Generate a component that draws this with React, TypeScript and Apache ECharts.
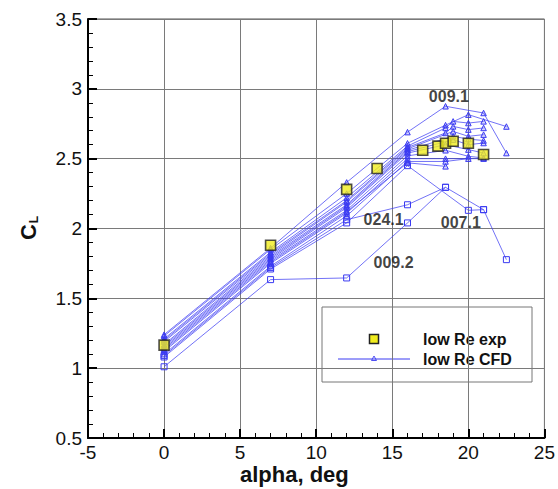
import React, { useEffect, useRef } from "react";
import * as echarts from "echarts";

const FONT = "'Liberation Sans', Arial, Helvetica, sans-serif";

// Experimental data (low Re exp)
const alphaExp = [0, 7, 12, 14, 17, 18, 18.5, 19, 20, 21];
const clExp = [1.165, 1.88, 2.28, 2.43, 2.56, 2.59, 2.61, 2.625, 2.61, 2.53];

// CFD runs (low Re CFD) - triangle marker runs
const t1Alpha = [0, 7, 12, 16, 18.5, 21, 22.5];
const t1Cl = [1.24, 1.86, 2.33, 2.69, 2.875, 2.827, 2.54];
const t2Alpha = [0, 7, 12, 16, 18.5, 20, 22.5];
const t2Cl = [1.23, 1.85, 2.25, 2.61, 2.74, 2.815, 2.73];
const t3Alpha = [0, 7, 12, 16, 18.5, 19, 20, 21];
const t3Cl = [1.21, 1.83, 2.22, 2.59, 2.72, 2.767, 2.755, 2.767];
const t4Alpha = [0, 7, 12, 16, 18.5, 19, 20, 21];
const t4Cl = [1.2, 1.82, 2.2, 2.58, 2.684, 2.731, 2.708, 2.72];
const t5Alpha = [0, 7, 12, 16, 19, 20, 21];
const t5Cl = [1.19, 1.81, 2.19, 2.57, 2.695, 2.66, 2.672];
const t6Alpha = [0, 7, 12, 16, 19, 20, 21];
const t6Cl = [1.17, 1.8, 2.17, 2.56, 2.66, 2.64, 2.63];
const t7Alpha = [0, 7, 12, 16, 19, 20, 21];
const t7Cl = [1.16, 1.79, 2.16, 2.55, 2.636, 2.6, 2.612];
const t8Alpha = [0, 7, 12, 16, 18.5, 20, 21];
const t8Cl = [1.15, 1.78, 2.15, 2.54, 2.6, 2.565, 2.54];
const t9Alpha = [0, 7, 12, 16, 18.5, 20, 21];
const t9Cl = [1.14, 1.77, 2.13, 2.52, 2.56, 2.517, 2.505];
const t10Alpha = [0, 7, 12, 16, 18.5, 21];
const t10Cl = [1.12, 1.75, 2.11, 2.5, 2.5, 2.5];
const t11Alpha = [0, 7, 12, 16, 18.5, 20];
const t11Cl = [1.1, 1.73, 2.09, 2.48, 2.48, 2.5];
const t12Alpha = [0, 7, 12, 16, 18.5];
const t12Cl = [1.13, 1.76, 2.12, 2.47, 2.445];

// square marker runs
const s0071Alpha = [0, 7, 12, 16, 20, 21, 22.5];
const s0071Cl = [1.08, 1.71, 2.04, 2.45, 2.13, 2.135, 1.777];
const s0241Alpha = [0, 7, 12, 16, 18.5, 21];
const s0241Cl = [1.09, 1.72, 2.063, 2.17, 2.295, 2.135];
const s0092Alpha = [0, 7, 12, 16, 18.5];
const s0092Cl = [1.01, 1.634, 1.646, 2.04, 2.295];

// annotation labels
const annoNames = ["009.1", "024.1", "007.1", "009.2"];
const annoAlpha = [18.72, 14.43, 19.5, 15.08];
const annoCl = [2.942, 2.063, 2.044, 1.758];

const xTicks = { min: -5, max: 25, interval: 5 };
const yTicks = { min: 0.5, max: 3.5, interval: 0.5 };

const triRuns: [number[], number[]][] = [
  [t1Alpha, t1Cl], [t2Alpha, t2Cl], [t3Alpha, t3Cl], [t4Alpha, t4Cl],
  [t5Alpha, t5Cl], [t6Alpha, t6Cl], [t7Alpha, t7Cl], [t8Alpha, t8Cl],
  [t9Alpha, t9Cl], [t10Alpha, t10Cl], [t11Alpha, t11Cl], [t12Alpha, t12Cl],
];
const sqRuns: [number[], number[]][] = [
  [s0071Alpha, s0071Cl], [s0241Alpha, s0241Cl], [s0092Alpha, s0092Cl],
];

const BLUE = "#3b3bf2";

function zip(a: number[], b: number[]) {
  return a.map((v, i) => [v, b[i]]);
}

export default function App() {
  const ref = useRef<HTMLDivElement>(null);
  useEffect(() => {
    if (!ref.current) return;
    const chart = echarts.init(ref.current, null, { renderer: "svg" });

    const cfdSeries: any[] = [];
    triRuns.forEach(([a, c]) => {
      cfdSeries.push({
        type: "line",
        data: zip(a, c),
        symbol: "triangle",
        symbolSize: 5.5,
        lineStyle: { color: BLUE, width: 0.9, opacity: 0.8 },
        itemStyle: { color: "rgba(80,80,245,0.25)", borderColor: BLUE, borderWidth: 1 },
        z: 3,
      });
    });
    sqRuns.forEach(([a, c]) => {
      cfdSeries.push({
        type: "line",
        data: zip(a, c),
        symbol: "rect",
        symbolSize: 6,
        lineStyle: { color: BLUE, width: 0.9, opacity: 0.8 },
        itemStyle: { color: "rgba(255,255,255,0)", borderColor: BLUE, borderWidth: 1 },
        z: 3,
      });
    });

    const option: any = {
      animation: false,
      backgroundColor: "#ffffff",
      textStyle: { fontFamily: FONT },
      grid: {
        left: 88,
        top: 19,
        right: 11,
        bottom: 51,
        show: true,
        borderColor: "#555",
        borderWidth: 1,
        backgroundColor: "transparent",
      },
      xAxis: {
        type: "value",
        min: xTicks.min,
        max: xTicks.max,
        interval: xTicks.interval,
        axisLine: { show: true, onZero: false, lineStyle: { color: "#000", width: 2 } },
        axisTick: { show: true, inside: true, length: 9, lineStyle: { color: "#000", width: 2 } },
        minorTick: { show: true, splitNumber: 5, length: 5, lineStyle: { color: "#000", width: 1 } },
        splitLine: { show: true, lineStyle: { color: "#7a7a7a", width: 1 } },
        axisLabel: { color: "#111", fontSize: 19, fontFamily: FONT, margin: 5 },
      },
      yAxis: {
        type: "value",
        min: yTicks.min,
        max: yTicks.max,
        interval: yTicks.interval,
        axisLine: { show: true, onZero: false, lineStyle: { color: "#000", width: 2 } },
        axisTick: { show: true, inside: true, length: 9, lineStyle: { color: "#000", width: 2 } },
        minorTick: { show: true, splitNumber: 5, length: 5, lineStyle: { color: "#000", width: 1 } },
        splitLine: { show: true, lineStyle: { color: "#7a7a7a", width: 1 } },
        axisLabel: { color: "#111", fontSize: 19, fontFamily: FONT, margin: 6 },
      },
      series: [
        ...cfdSeries,
        {
          type: "scatter",
          data: zip(alphaExp, clExp),
          symbol: "rect",
          symbolSize: 10,
          itemStyle: { color: "#f0ec1e", borderColor: "#222", borderWidth: 1.6 },
          z: 5,
        },
        {
          type: "scatter",
          data: annoNames.map((n, i) => ({ name: n, value: [annoAlpha[i], annoCl[i]] })),
          symbolSize: 0,
          silent: true,
          label: {
            show: true,
            position: "inside",
            formatter: (p: any) => p.name,
            fontFamily: FONT,
            fontWeight: "bold",
            fontSize: 16,
            color: "#111",
          },
          z: 6,
        },
      ],
      graphic: [
        {
          type: "text",
          left: 297 - 57,
          top: 463,
          style: {
            text: "alpha, deg",
            font: `bold 22px ${FONT}`,
            fill: "#111",
          },
        },
        {
          type: "text",
          x: 16,
          y: 240,
          rotation: Math.PI / 2,
          style: {
            text: "{c|C}{l|L}",
            rich: {
              c: { font: `bold 22px ${FONT}`, fill: "#111" },
              l: { font: `bold 12px ${FONT}`, fill: "#111", padding: [12, 0, 0, 1] },
            },
          },
        },
        {
          type: "group",
          z: 100,
          children: [
            {
              type: "rect",
              shape: { x: 322, y: 307, width: 210, height: 75 },
              style: { fill: "#fff", stroke: "#777", lineWidth: 1 },
            },
            {
              type: "rect",
              shape: { x: 369.5, y: 334.5, width: 9, height: 9 },
              style: { fill: "#f0ec1e", stroke: "#222", lineWidth: 1.5 },
            },
            {
              type: "line",
              shape: { x1: 338, y1: 359, x2: 410, y2: 359 },
              style: { stroke: BLUE, lineWidth: 1 },
            },
            {
              type: "polygon",
              shape: { points: [[374, 356], [371.5, 360.5], [376.5, 360.5]] },
              style: { fill: "none", stroke: BLUE, lineWidth: 0.9 },
            },
            {
              type: "text",
              x: 423,
              y: 339,
              style: {
                text: "low Re exp",
                font: `bold 16px ${FONT}`,
                fill: "#111",
                verticalAlign: "middle",
              },
            },
            {
              type: "text",
              x: 423,
              y: 359,
              style: {
                text: "low Re CFD",
                font: `bold 16px ${FONT}`,
                fill: "#111",
                verticalAlign: "middle",
              },
            },
          ],
        },
      ],
    };
    chart.setOption(option);
    return () => chart.dispose();
  }, []);
  return (
    <div
      ref={ref}
      style={{ position: "fixed", left: 0, top: 0, width: 558, height: 489, background: "#fff" }}
    />
  );
}
